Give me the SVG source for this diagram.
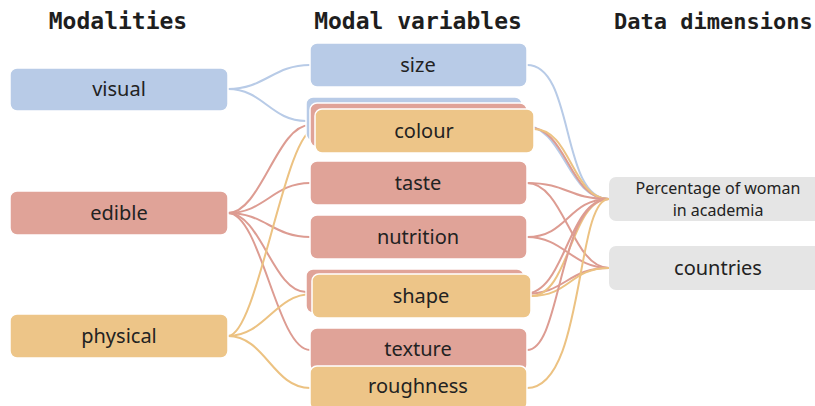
<svg xmlns="http://www.w3.org/2000/svg" width="815" height="406" viewBox="0 0 815 406">
<style>
.h{font-family:"DejaVu Sans Mono","Liberation Mono",monospace;font-weight:bold;font-size:23px;fill:#1e1e1e}
.hs{font-size:22px}
.t{font-family:"Noto Sans","Open Sans",sans-serif;font-size:20px;fill:#222;text-anchor:middle}
.s{font-size:16px}
.b{fill:#b8cbe7;stroke:#fff;stroke-width:1.5}
.r{fill:#e0a398;stroke:#fff;stroke-width:1.5}
.y{fill:#edc588;stroke:#fff;stroke-width:1.5}
.g{fill:#e5e5e5}
#links path{fill:none;stroke-width:2}
.lb{stroke:#b8cbe7}
.lr{stroke:#dd9c92}
.ly{stroke:#ecc282}
</style>
<rect width="815" height="406" fill="#fff"/>
<text class="h" x="118" y="29" text-anchor="middle">Modalities</text>
<text class="h" x="418" y="29" text-anchor="middle">Modal variables</text>
<text class="h hs" x="614" y="29">Data dimensions</text>
<g id="links">
<path class="lb" d="M228,89 C265,89 273,65 310,65"/>
<path class="lb" d="M228,89 C263,89 271,121 306,121"/>
<path class="lr" d="M228,213 C261,213 277,125 310,125"/>
<path class="lr" d="M228,213 C265,213 273,183 310,183"/>
<path class="lr" d="M228,213 C265,213 273,237 310,237"/>
<path class="lr" d="M228,213 C261,213 273,292 306,292"/>
<path class="lr" d="M228,213 C261,213 277,350 310,350"/>
<path class="ly" d="M228,336 C258,336 285,129 315,129"/>
<path class="ly" d="M228,336 C265,336 275,294 312,294"/>
<path class="ly" d="M228,336 C265,336 273,388 310,388"/>
<path class="lb" d="M527,65 C575,65 560,199 609,199"/>
<path class="lb" d="M522,125 C565,125 566,199 609,199"/>
<path class="lr" d="M527,127 C568,127 568,199 609,199"/>
<path class="ly" d="M534,129 C571,129 572,199 609,199"/>
<path class="lr" d="M527,183 C568,183 568,199 609,199"/>
<path class="lr" d="M527,183 C564,183 572,268 609,268"/>
<path class="lr" d="M527,237 C568,237 568,199 609,199"/>
<path class="lr" d="M527,237 C564,237 572,268 609,268"/>
<path class="lr" d="M524,294 C566,294 567,199 609,199"/>
<path class="lr" d="M524,294 C566,294 567,268 609,268"/>
<path class="ly" d="M531,296 C570,296 570,199 609,199"/>
<path class="ly" d="M531,296 C570,296 570,268 609,268"/>
<path class="lr" d="M527,350 C562,350 558,199 609,199"/>
<path class="ly" d="M527,388 C585,388 575,199 609,199"/>
</g>
<g id="visual"><rect class="b" x="10" y="68" width="218" height="43" rx="7"/><text class="t" x="119" y="96">visual</text></g>
<g id="edible"><rect class="r" x="10" y="191" width="218" height="44" rx="7"/><text class="t" x="119" y="220">edible</text></g>
<g id="physical"><rect class="y" x="10" y="314" width="218" height="44" rx="7"/><text class="t" x="119" y="343">physical</text></g>
<g id="size"><rect class="b" x="310" y="43" width="217" height="44" rx="7"/><text class="t" x="418" y="72">size</text></g>
<g id="colour-visual"><rect class="b" x="306" y="97" width="216" height="44" rx="7"/></g>
<g id="colour-edible"><rect class="r" x="310" y="103" width="217" height="44" rx="7"/></g>
<g id="colour"><rect class="y" x="315" y="109" width="219" height="44" rx="7"/><text class="t" x="424" y="138">colour</text></g>
<g id="taste"><rect class="r" x="310" y="161" width="217" height="44" rx="7"/><text class="t" x="418" y="190">taste</text></g>
<g id="nutrition"><rect class="r" x="310" y="215" width="217" height="44" rx="7"/><text class="t" x="418" y="244">nutrition</text></g>
<g id="shape-edible"><rect class="r" x="306" y="269" width="218" height="44" rx="7"/></g>
<g id="shape"><rect class="y" x="312" y="274" width="219" height="44" rx="7"/><text class="t" x="421" y="303">shape</text></g>
<g id="texture"><rect class="r" x="310" y="328" width="217" height="44" rx="7"/><text class="t" x="418" y="356">texture</text></g>
<g id="roughness"><rect class="y" x="310" y="366" width="217" height="44" rx="7"/><text class="t" x="418" y="393">roughness</text></g>
<g id="percentage"><rect class="g" x="609" y="177" width="222" height="44" rx="7"/><text class="t s" x="718" y="194">Percentage of woman</text><text class="t s" x="718" y="216">in academia</text></g>
<g id="countries"><rect class="g" x="609" y="246" width="222" height="44" rx="7"/><text class="t" x="718" y="275">countries</text></g>
</svg>
